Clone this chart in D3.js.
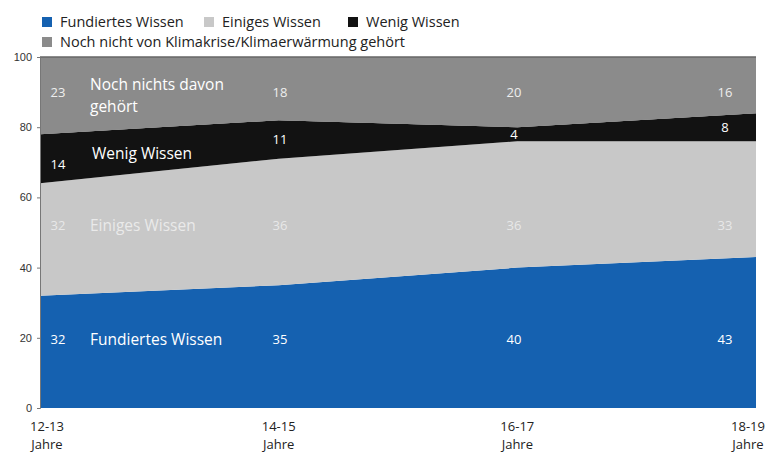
<!DOCTYPE html>
<html><head><meta charset="utf-8">
<script src="https://cdn.jsdelivr.net/npm/d3@7"></script>
<style>body{margin:0;background:#fff}svg{display:block;font-family:"Open Sans","Noto Sans",sans-serif}</style>
</head><body>
<svg id="c" width="768" height="452"></svg>
<script>
const categories = ["12-13", "14-15", "16-17", "18-19"];
const fundiert = [32, 35, 40, 43];
const einiges = [32, 36, 36, 33];
const wenig = [14, 11, 4, 8];
const nochNicht = [23, 18, 20, 16];
const seriesNames = ["Fundiertes Wissen", "Einiges Wissen", "Wenig Wissen", "Noch nicht von Klimakrise/Klimaerwärmung gehört"];
const bandLabels = ["Fundiertes Wissen", "Einiges Wissen", "Wenig Wissen", "Noch nichts davon|gehört"];
const colors = ["#1561b0", "#c8c8c8", "#121212", "#8b8b8b"];
const yTicks = [0, 20, 40, 60, 80, 100];

const svg = d3.select("#c");
const keys = ["f", "e", "w", "n"];
const rows = categories.map((c, i) => ({c, i, f: fundiert[i], e: einiges[i], w: wenig[i], n: nochNicht[i]}));
const stack = d3.stack().keys(keys)(rows);

const x = d3.scaleLinear().domain([0, 3]).range([40, 756]);
const y = d3.scaleLinear().domain([0, 100]).range([408, 57]);

const area = d3.area().x(d => x(d.data.i)).y0(d => y(d[0])).y1(d => y(Math.min(d[1], 100)));
svg.selectAll("path.a").data(stack).join("path").attr("class", "a")
  .attr("d", area).attr("fill", (d, i) => colors[i]);

// top grey band to fill to 100
svg.append("path").attr("fill", colors[3])
  .attr("d", d3.area().x(d => x(d.i)).y0(d => y(d.f + d.e + d.w)).y1(y(100))(rows));

// top border
svg.append("line").attr("x1", 40).attr("x2", 756).attr("y1", y(100)).attr("y2", y(100)).attr("stroke", "#666").attr("stroke-width", 1.5);

// y axis
const ya = svg.append("g").attr("transform", "translate(40,0)")
  .call(d3.axisLeft(y).tickValues(yTicks).tickSize(3).tickPadding(5));
ya.select(".domain").attr("stroke", "#777");
ya.selectAll(".tick line").attr("stroke", "#777");
ya.selectAll("text").attr("font-size", 11).attr("fill", "#333");

// x labels
const xl = svg.append("g");
categories.forEach((c, i) => {
  const cx = x(i) + (i === 0 ? 7 : (i === 3 ? -8 : 0));
  const t = xl.append("text").attr("x", cx).attr("text-anchor", "middle").attr("font-size", 13).attr("fill", "#222");
  t.append("tspan").attr("x", cx).attr("y", 431).text(c);
  t.append("tspan").attr("x", cx).attr("y", 449).text("Jahre");
});

// value labels
const labelY = {f: () => 19.5, e: () => 52, w: (r) => r.f + r.e + r.w / 2, n: () => 90};
const labelX = [58, 280, 514, 725];
const labelColors = {f: "#fff", e: "#eee", w: "#fff", n: "#eee"};
const seriesVals = {f: fundiert, e: einiges, w: wenig, n: nochNicht};
keys.forEach(k => {
  rows.forEach((r, i) => {
    let yy = labelY[k](r);
    if (k === "w" && i === 0) yy = r.f + r.e + r.w / 2 - 1.5;
    svg.append("text").attr("x", labelX[i]).attr("y", y(yy)).attr("dy", "0.35em")
      .attr("text-anchor", "middle").attr("font-size", 13).attr("fill", labelColors[k])
      .attr("opacity", k === "e" ? 0.85 : 1)
      .text(seriesVals[k][i]);
  });
});
// band name labels
const nameY = {f: 19.5, e: 52, w: 72.5, n: 90};
keys.forEach((k, j) => {
  const parts = bandLabels[j].split("|");
  const t = svg.append("text").attr("x", 90).attr("font-size", 15.5).attr("fill", k === "e" ? "#eee" : "#fff")
    .attr("opacity", k === "e" ? 0.9 : 1);
  if (parts.length === 1) {
    t.attr("y", y(nameY[k])).attr("dy", "0.35em").text(parts[0]);
    if (k === "w") t.attr("x", 92);
  } else {
    t.append("tspan").attr("x", 90).attr("y", y(nameY[k]) - 2).text(parts[0]);
    t.append("tspan").attr("x", 90).attr("y", y(nameY[k]) + 20).text(parts[1]);
  }
});

// legend
const leg = [[42, 22, 0], [204, 22, 1], [348, 22, 2], [42, 42, 3]];
leg.forEach(([lx, ly, i]) => {
  svg.append("rect").attr("x", lx).attr("y", ly - 5).attr("width", 10).attr("height", 10).attr("fill", colors[i]);
  svg.append("text").attr("x", lx + 18).attr("y", ly).attr("dy", "0.35em").attr("font-size", 14.5).attr("fill", "#222").text(seriesNames[i]);
});
</script>
</body></html>
